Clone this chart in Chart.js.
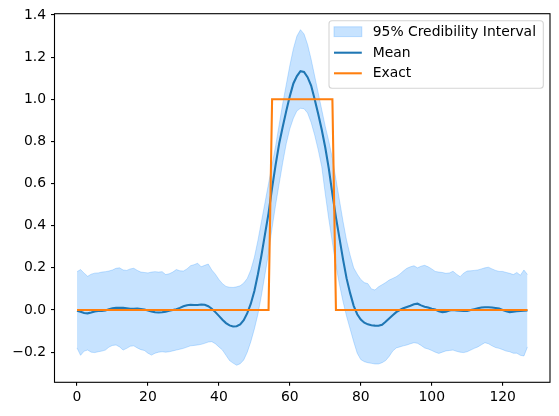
<!DOCTYPE html>
<html>
<head>
<meta charset="utf-8">
<script src="https://cdn.jsdelivr.net/npm/chart.js@4.4.1/dist/chart.umd.min.js"></script>
<style>
  html, body { margin: 0; padding: 0; background: #ffffff; }
  #wrap { width: 559px; height: 416px; }
</style>
</head>
<body>
<div id="wrap"><canvas id="chart" width="559" height="416"></canvas></div>
<script>
// ===================================
// DATA
// ===================================

const meanValues = [
  -0.003, -0.008, -0.014, -0.016, -0.012, -0.007, -0.005, -0.004, -0.002, 0.004,
  0.008, 0.010, 0.010, 0.010, 0.008, 0.006, 0.006, 0.007, 0.005, 0.002,
  -0.002, -0.007, -0.011, -0.012, -0.011, -0.008, -0.004, 0.000, 0.004, 0.010,
  0.018, 0.023, 0.025, 0.024, 0.024, 0.026, 0.025, 0.018, 0.006, -0.010,
  -0.028, -0.046, -0.062, -0.073, -0.078, -0.077, -0.068, -0.048, -0.015, 0.030,
  0.090, 0.170, 0.260, 0.360, 0.460, 0.580, 0.690, 0.790, 0.870, 0.945,
  1.015, 1.075, 1.110, 1.133, 1.130, 1.105, 1.065, 1.000, 0.930, 0.855,
  0.770, 0.670, 0.550, 0.440, 0.340, 0.240, 0.150, 0.080, 0.020, -0.020,
  -0.045, -0.060, -0.068, -0.072, -0.074, -0.075, -0.070, -0.056, -0.040, -0.025,
  -0.010, 0.000, 0.008, 0.014, 0.020, 0.027, 0.030, 0.022, 0.016, 0.012,
  0.006, 0.002, -0.006, -0.010, -0.008, -0.002, 0.000, -0.002, -0.003, -0.004,
  -0.004, 0.000, 0.004, 0.008, 0.012, 0.013, 0.013, 0.012, 0.010, 0.007,
  0.000, -0.006, -0.010, -0.008, -0.006, -0.004, -0.003, -0.002
];

const upperValues = [
  0.182, 0.192, 0.175, 0.160, 0.170, 0.175, 0.176, 0.180, 0.182, 0.185,
  0.190, 0.198, 0.200, 0.190, 0.188, 0.195, 0.198, 0.188, 0.180, 0.178,
  0.176, 0.180, 0.182, 0.180, 0.182, 0.168, 0.172, 0.180, 0.192, 0.186,
  0.185, 0.195, 0.210, 0.215, 0.222, 0.205, 0.212, 0.218, 0.190, 0.170,
  0.145, 0.125, 0.112, 0.108, 0.107, 0.110, 0.115, 0.128, 0.150, 0.190,
  0.250, 0.330, 0.420, 0.510, 0.600, 0.690, 0.780, 0.880, 0.980, 1.070,
  1.160, 1.240, 1.300, 1.330, 1.310, 1.260, 1.190, 1.110, 1.030, 0.950,
  0.870, 0.800, 0.720, 0.620, 0.520, 0.420, 0.330, 0.260, 0.200, 0.170,
  0.145, 0.130, 0.125, 0.100, 0.095, 0.110, 0.120, 0.130, 0.142, 0.150,
  0.158, 0.170, 0.185, 0.198, 0.205, 0.210, 0.200, 0.208, 0.212, 0.205,
  0.195, 0.183, 0.180, 0.178, 0.174, 0.176, 0.184, 0.170, 0.158, 0.175,
  0.185, 0.186, 0.188, 0.190, 0.195, 0.200, 0.203, 0.195, 0.188, 0.183,
  0.183, 0.178, 0.174, 0.168, 0.178, 0.165, 0.190, 0.168
];

const lowerValues = [
  -0.180, -0.215, -0.195, -0.190, -0.200, -0.202, -0.198, -0.195, -0.190, -0.176,
  -0.168, -0.166, -0.175, -0.190, -0.182, -0.172, -0.170, -0.180, -0.188, -0.192,
  -0.205, -0.214, -0.205, -0.200, -0.198, -0.200, -0.198, -0.194, -0.190, -0.186,
  -0.182, -0.176, -0.170, -0.168, -0.166, -0.163, -0.158, -0.152, -0.150, -0.160,
  -0.175, -0.190, -0.215, -0.240, -0.252, -0.262, -0.255, -0.237, -0.200, -0.150,
  -0.090, -0.020, 0.070, 0.170, 0.270, 0.390, 0.500, 0.600, 0.700, 0.790,
  0.860, 0.910, 0.945, 0.957, 0.955, 0.935, 0.890, 0.830, 0.760, 0.680,
  0.550, 0.430, 0.320, 0.210, 0.120, 0.040, -0.030, -0.090, -0.150, -0.205,
  -0.235, -0.245, -0.250, -0.253, -0.256, -0.256, -0.250, -0.240, -0.220, -0.195,
  -0.180, -0.175, -0.170, -0.166, -0.160, -0.155, -0.158, -0.168, -0.180, -0.185,
  -0.192, -0.200, -0.206, -0.200, -0.194, -0.192, -0.190, -0.196, -0.200, -0.202,
  -0.198, -0.190, -0.182, -0.175, -0.165, -0.155, -0.160, -0.170, -0.178, -0.182,
  -0.188, -0.195, -0.198, -0.205, -0.205, -0.215, -0.218, -0.175
];

// exact solution: 1 on indices 55..72, 0 elsewhere
const exactValues = [
  0, 0, 0, 0, 0, 0, 0, 0, 0, 0, 0, 0, 0, 0, 0, 0, 0, 0, 0, 0,
  0, 0, 0, 0, 0, 0, 0, 0, 0, 0, 0, 0, 0, 0, 0, 0, 0, 0, 0, 0,
  0, 0, 0, 0, 0, 0, 0, 0, 0, 0, 0, 0, 0, 0, 0, 1, 1, 1, 1, 1,
  1, 1, 1, 1, 1, 1, 1, 1, 1, 1, 1, 1, 1, 0, 0, 0, 0, 0, 0, 0,
  0, 0, 0, 0, 0, 0, 0, 0, 0, 0, 0, 0, 0, 0, 0, 0, 0, 0, 0, 0,
  0, 0, 0, 0, 0, 0, 0, 0, 0, 0, 0, 0, 0, 0, 0, 0, 0, 0, 0, 0,
  0, 0, 0, 0, 0, 0, 0, 0
];

const xTicks = [0, 20, 40, 60, 80, 100, 120];
const yTicks = [-0.2, 0.0, 0.2, 0.4, 0.6, 0.8, 1.0, 1.2, 1.4];
const legendLabels = ['95% Credibility Interval', 'Mean', 'Exact'];

// ===================================
// STYLE
// ===================================

const FONT = { family: "'DejaVu Sans', sans-serif", size: 13.9 };
const BAND_FILL = 'rgba(30, 144, 255, 0.25)';
const BAND_EDGE = 'rgba(30, 144, 255, 0.25)';
const MEAN_COLOR = '#1f77b4';
const EXACT_COLOR = '#ff7f0e';

function toPoints(values) {
    return values.map((v, i) => ({ x: i, y: v }));
}

function formatTick(value) {
    const s = Math.abs(value).toFixed(1);
    return value < -1e-9 ? '\u2212' + s : s;
}

// axes frame (matplotlib style box)
const framePlugin = {
    id: 'frame',
    afterDatasetsDraw(chart) {
        const { ctx, chartArea: a } = chart;
        ctx.save();
        ctx.strokeStyle = '#000000';
        ctx.lineWidth = 1.1;
        ctx.strokeRect(a.left, a.top, a.right - a.left, a.bottom - a.top);
        ctx.restore();
    }
};

// legend box in the upper right corner
const legendPlugin = {
    id: 'mplLegend',
    afterDraw(chart) {
        const { ctx, chartArea: a } = chart;
        const boxRight = a.right - 6.7;
        const boxLeft = boxRight - 214.3;
        const boxTop = a.top + 7;
        const boxH = 67.6;
        const rowY = [boxTop + 11, boxTop + 32, boxTop + 52.6];
        const handleX = boxLeft + 5;
        const handleW = 27.8;
        const textX = boxLeft + 43.7;

        ctx.save();
        ctx.beginPath();
        ctx.roundRect(boxLeft, boxTop, boxRight - boxLeft, boxH, 3);
        ctx.fillStyle = 'rgba(255, 255, 255, 0.8)';
        ctx.fill();
        ctx.strokeStyle = '#d5d5d5';
        ctx.lineWidth = 1.1;
        ctx.stroke();

        // band patch
        ctx.fillStyle = BAND_FILL;
        ctx.fillRect(handleX, rowY[0] - 4.9, handleW, 9.8);
        ctx.strokeStyle = BAND_EDGE;
        ctx.lineWidth = 1;
        ctx.strokeRect(handleX, rowY[0] - 4.9, handleW, 9.8);

        // line handles
        [[MEAN_COLOR, rowY[1]], [EXACT_COLOR, rowY[2]]].forEach(([color, y]) => {
            ctx.beginPath();
            ctx.moveTo(handleX, y);
            ctx.lineTo(handleX + handleW, y);
            ctx.strokeStyle = color;
            ctx.lineWidth = 2.08;
            ctx.stroke();
        });

        ctx.fillStyle = '#000000';
        ctx.font = `${FONT.size}px ${FONT.family}`;
        ctx.textBaseline = 'middle';
        ctx.textAlign = 'left';
        legendLabels.forEach((label, i) => ctx.fillText(label, textX, rowY[i] + 0.5));
        ctx.restore();
    }
};

const tickGrid = {
    display: true,
    drawOnChartArea: false,
    drawTicks: true,
    tickLength: 3.5,
    color: '#000000',
    lineWidth: 1.1
};

const config = {
    type: 'line',
    data: {
        datasets: [
            {
                label: legendLabels[0],
                data: toPoints(upperValues),
                borderColor: BAND_EDGE,
                backgroundColor: BAND_FILL,
                borderWidth: 1,
                fill: '+1',
                pointRadius: 0,
                tension: 0,
                order: 3
            },
            {
                label: 'lower',
                data: toPoints(lowerValues),
                borderColor: BAND_EDGE,
                borderWidth: 1,
                fill: false,
                pointRadius: 0,
                tension: 0,
                order: 2
            },
            {
                label: legendLabels[1],
                data: toPoints(meanValues),
                borderColor: MEAN_COLOR,
                borderWidth: 2.08,
                fill: false,
                pointRadius: 0,
                tension: 0,
                order: 1
            },
            {
                label: legendLabels[2],
                data: toPoints(exactValues),
                borderColor: EXACT_COLOR,
                borderWidth: 2.08,
                fill: false,
                pointRadius: 0,
                tension: 0,
                order: 0
            }
        ]
    },
    options: {
        responsive: false,
        animation: false,
        devicePixelRatio: 1,
        layout: { padding: { left: 0, right: 9, top: 13.7, bottom: 0 } },
        plugins: {
            legend: { display: false },
            tooltip: { enabled: false }
        },
        scales: {
            x: {
                type: 'linear',
                min: -6.35,
                max: 133.35,
                grid: tickGrid,
                border: { display: false },
                afterBuildTicks: scale => { scale.ticks = xTicks.map(v => ({ value: v })); },
                afterFit: scale => { scale.height = 33.7; },
                ticks: {
                    font: FONT,
                    color: '#000000',
                    padding: 3,
                    maxRotation: 0,
                    autoSkip: false,
                    callback: v => String(v)
                }
            },
            y: {
                type: 'linear',
                min: -0.343,
                max: 1.406,
                grid: tickGrid,
                border: { display: false },
                afterBuildTicks: scale => { scale.ticks = yTicks.map(v => ({ value: v })); },
                afterFit: scale => { scale.width = 54.5; },
                ticks: {
                    font: FONT,
                    color: '#000000',
                    padding: 4.9,
                    autoSkip: false,
                    callback: v => formatTick(v)
                }
            }
        }
    },
    plugins: [framePlugin, legendPlugin]
};

new Chart(document.getElementById('chart').getContext('2d'), config);
</script>
</body>
</html>
